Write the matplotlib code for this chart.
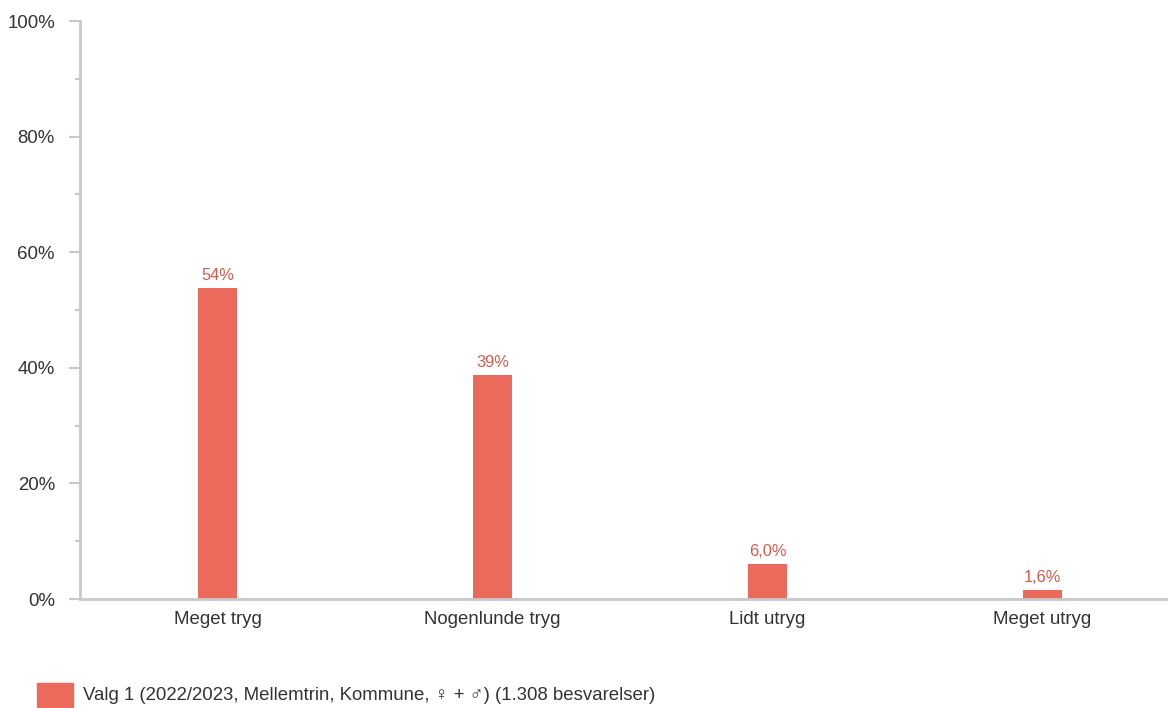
import matplotlib
matplotlib.use("Agg")
import matplotlib.pyplot as plt
from matplotlib.ticker import MultipleLocator, FuncFormatter
from matplotlib.patches import Rectangle

plt.rcParams['font.family'] = ['Liberation Sans', 'DejaVu Sans']

categories = ["Meget tryg", "Nogenlunde tryg", "Lidt utryg", "Meget utryg"]
values = [53.8, 38.7, 6.0, 1.6]
labels = ["54%", "39%", "6,0%", "1,6%"]
legend_label = "Valg 1 (2022/2023, Mellemtrin, Kommune, \u2640 + \u2642) (1.308 besvarelser)"

bar_color = "#EC6A5C"
label_color = "#D9584C"
axis_color = "#C8C8C8"
text_color = "#333333"

W, H = 1168, 708
fig = plt.figure(figsize=(W / 100, H / 100), dpi=100)
ax = fig.add_axes([80 / W, 1 - 599 / H, (1180 - 80) / W, (599 - 21) / H])

x = list(range(len(categories)))
ax.bar(x, values, width=0.14, color=bar_color, zorder=2)
for xi, v, lab in zip(x, values, labels):
    ax.annotate(lab, (xi, v), xytext=(0, 3.5), textcoords="offset points",
                ha="center", va="bottom", color=label_color, fontsize=11.8)

ax.set_xlim(-0.5, len(categories) - 0.5)
ax.set_ylim(0, 100)
ax.yaxis.set_major_locator(MultipleLocator(20))
ax.yaxis.set_minor_locator(MultipleLocator(10))
ax.yaxis.set_major_formatter(FuncFormatter(lambda v, p: f"{int(v)}%"))
ax.set_xticks(x)
ax.set_xticklabels(categories)

for s in ["top", "right"]:
    ax.spines[s].set_visible(False)
for s in ["left", "bottom"]:
    ax.spines[s].set_color(axis_color)
    ax.spines[s].set_linewidth(2)

ax.tick_params(axis="y", which="major", length=8, width=1.5, color=axis_color,
               labelsize=13.4, labelcolor=text_color, pad=10)
ax.tick_params(axis="y", which="minor", length=3.6, width=1.5, color=axis_color)
ax.tick_params(axis="x", which="both", length=0, labelsize=13.4,
               labelcolor=text_color, pad=9)

# legend
fig.patches.append(Rectangle((37 / W, 1 - 707 / H), 36 / W, 24 / H,
                             transform=fig.transFigure, color=bar_color))
fig.text(83 / W, 1 - 696 / H, legend_label, ha="left", va="center",
         fontsize=13.4, color=text_color)

fig.savefig("out.png", dpi=100)
